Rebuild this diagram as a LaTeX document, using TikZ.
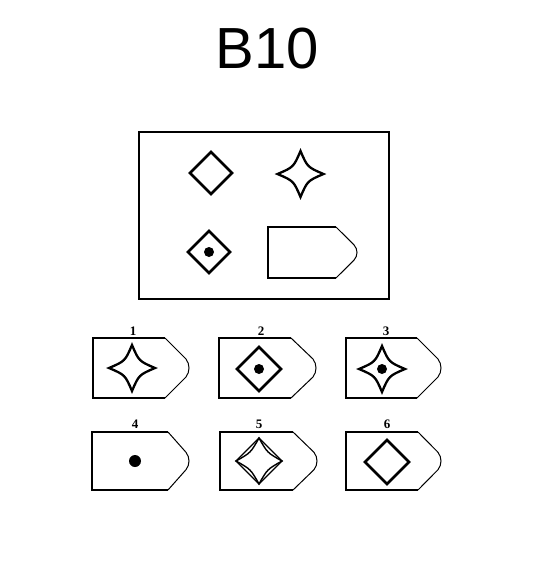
\documentclass[tikz,border=0pt]{standalone}
\usepackage{fontspec}
\setmainfont{Liberation Sans}
\newfontfamily\labfont{Liberation Serif}
\tikzset{
 frame/.style={line width=2pt},
 tagbody/.style={line width=2pt, line join=miter},
 tagnose/.style={line width=1pt},
 diam/.style={line width=2.8pt, line join=miter},
 starline/.style={line width=2.3pt, line join=miter},
 thinline/.style={line width=1.4pt, line join=miter},
 lab/.style={font=\labfont\bfseries\fontsize{13}{13}\selectfont, inner sep=0pt},
}
\newcommand\tagshape[5]{% left, top, flat, tip, bottom
 \pgfmathsetmacro\tagmid{(#2+#5)/2}
 \pgfmathsetmacro\tagh{(#5-#2)/2}
 \draw[tagbody] (#3,#2) -- (#1,#2) -- (#1,#5) -- (#3,#5);
 \draw[tagnose] (#3,#2) -- ({#4-4},{\tagmid-0.3*\tagh}) .. controls (#4,{\tagmid-0.12*\tagh}) and (#4,{\tagmid+0.12*\tagh}) .. ({#4-4},{\tagmid+0.3*\tagh}) -- (#3,#5);
}
\newcommand\diamondshape[4][diam]{\draw[#1] (#2,{#3-#4}) -- ({#2+#4},#3) -- (#2,{#3+#4}) -- ({#2-#4},#3) -- cycle;}
\newcommand\starshape[5][starline]{\draw[#1,shift={(#2,#3)},scale=#4] (0,1) .. controls (#5,#5) .. (1,0) .. controls (#5,-#5) .. (0,-1) .. controls (-#5,-#5) .. (-1,0) .. controls (-#5,#5) .. (0,1) -- cycle;}
\begin{document}
\begin{tikzpicture}[x=1pt,y=-1pt]
\useasboundingbox (0,0) rectangle (559,563);
\node (title) at (267,49) {\fontsize{58}{60}\selectfont B10};
% matrix
\draw[frame] (139,132) rectangle (389,299);
\diamondshape{211}{173}{21}
\starshape{300.5}{174}{23}{0.3}
\diamondshape{209}{252}{21}
\fill (209,252) circle (5);
\tagshape{268}{227}{336}{358}{278}
% options row 1
\node[lab] (l1) at (133,331) {1};
\node[lab] (l2) at (261,331) {2};
\node[lab] (l3) at (386,331) {3};
\tagshape{93}{338}{165}{190}{398}
\starshape{132}{368}{23}{0.3}
\tagshape{219}{338}{291}{317}{398}
\diamondshape{259}{369}{22}
\fill (259,369) circle (5);
\tagshape{346}{338}{417}{442}{398}
\starshape{382}{369}{23}{0.3}
\fill (382,369) circle (5);
% options row 2
\node[lab] (l4) at (135,424) {4};
\node[lab] (l5) at (259,424) {5};
\node[lab] (l6) at (387,424) {6};
\tagshape{92}{432}{168}{190}{490}
\fill (135,461) circle (6);
\tagshape{220}{432}{293}{318}{490}
\diamondshape[thinline]{259}{461}{23}
\starshape[thinline]{259}{461}{23}{0.36}
\tagshape{346}{432}{418}{442}{490}
\diamondshape{387}{462}{22}
\end{tikzpicture}
\end{document}
